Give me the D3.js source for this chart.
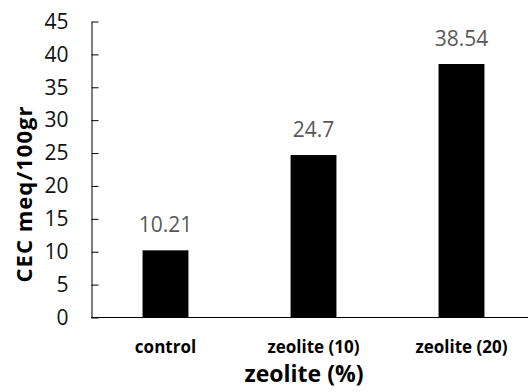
<!DOCTYPE html>
<html>
<head>
<meta charset="utf-8">
<script src="https://cdn.jsdelivr.net/npm/d3@7/dist/d3.min.js"></script>
<style>
  body { margin: 0; background: #fff; }
  svg { display: block; font-family: "Open Sans", sans-serif; }
</style>
</head>
<body>
<svg width="528" height="392"></svg>
<script>
var categories = ['control', 'zeolite (10)', 'zeolite (20)'];
var cec = [10.21, 24.7, 38.54];
var yTicks = [0, 5, 10, 15, 20, 25, 30, 35, 40, 45];
var xTitle = 'zeolite (%)';
var yTitle = 'CEC meq/100gr';

var svg = d3.select('svg');

var x = d3.scaleBand()
    .domain(categories)
    .range([91.5, 535.5])
    .paddingInner(0.69)
    .paddingOuter(0.345);

var y = d3.scaleLinear()
    .domain([0, 45])
    .range([317.5, 21.5]);

// bars
svg.selectAll('rect.bar')
    .data(cec)
    .enter().append('rect')
    .attr('class', 'bar')
    .attr('x', (d, i) => x(categories[i]))
    .attr('width', x.bandwidth())
    .attr('y', d => y(d))
    .attr('height', d => y(0) - y(d))
    .attr('fill', '#000');

// value labels
svg.selectAll('text.val')
    .data(cec)
    .enter().append('text')
    .attr('class', 'val')
    .attr('x', (d, i) => x(categories[i]) + x.bandwidth() / 2)
    .attr('y', d => y(d) - 18)
    .attr('text-anchor', 'middle')
    .attr('font-size', 21)
    .attr('fill', '#595959')
    .text(d => d);

// y axis, ticks pointing inside
var yAxis = svg.append('g')
    .attr('transform', 'translate(91.5,0)')
    .call(d3.axisLeft(y)
        .tickValues(yTicks)
        .tickSizeInner(-7)
        .tickSizeOuter(0)
        .tickPadding(23));
yAxis.select('.domain').attr('stroke', '#000');
yAxis.selectAll('.tick line').attr('stroke', '#000');
yAxis.selectAll('.tick text')
    .attr('font-size', 21)
    .attr('font-family', '"Open Sans", sans-serif')
    .attr('fill', '#111');

// x axis line, no ticks
svg.append('line')
    .attr('x1', 91)
    .attr('x2', 528)
    .attr('y1', y(0))
    .attr('y2', y(0))
    .attr('stroke', '#000');

svg.selectAll('text.cat')
    .data(categories)
    .enter().append('text')
    .attr('class', 'cat')
    .attr('x', d => x(d) + x.bandwidth() / 2)
    .attr('y', 353)
    .attr('text-anchor', 'middle')
    .attr('font-size', 17)
    .attr('font-weight', 'bold')
    .attr('fill', '#000')
    .text(d => d);

svg.append('text')
    .attr('x', 304)
    .attr('y', 382)
    .attr('text-anchor', 'middle')
    .attr('font-size', 23)
    .attr('font-weight', 'bold')
    .text(xTitle);

svg.append('text')
    .attr('transform', 'translate(32,194) rotate(-90)')
    .attr('text-anchor', 'middle')
    .attr('font-size', 22)
    .attr('font-weight', 'bold')
    .attr('letter-spacing', 1)
    .text(yTitle);
</script>
</body>
</html>
